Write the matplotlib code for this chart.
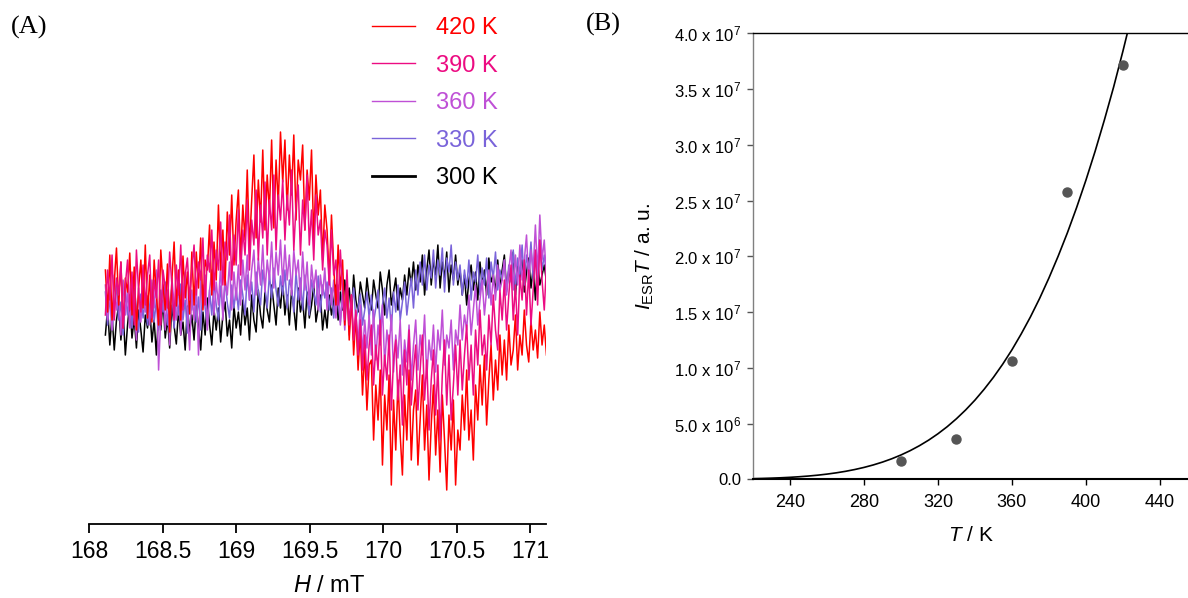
import numpy as np
import matplotlib
matplotlib.use("Agg")
import matplotlib.pyplot as plt
from matplotlib.ticker import FuncFormatter, FormatStrFormatter

plt.rcParams['font.family'] = ['Liberation Sans', 'DejaVu Sans']
plt.rcParams['mathtext.fontset'] = 'custom'
plt.rcParams['mathtext.rm'] = 'Liberation Sans'
plt.rcParams['mathtext.it'] = 'Liberation Sans:italic'

# ---------------- (A) ESR spectra ----------------
field = np.linspace(168.11, 171.11, 200)   # mT, sweep grid

esr_420 = [30, -12, 45, -20, 18, 52, -5, 38, -28, 22, 8, 47, -15, 33, -30, 12, 40, -8, 55, -18,
           25, -22, 40, 5, -25, 50, 15, -10, 36, -32, 20, 58, -6, 30, -20, 44, 2, 28, -14, 48,
           -5, 48, 12, 62, -10, 40, 30, 75, 5, 58, 20, 95, 30, 70, 15, 88, 45, 105, 35, 80,
           110, 40, 95, 60, 130, 50, 100, 145, 62, 120, 78, 150, 70, 125, 88, 160, 72, 140, 95, 168,
           118, 160, 90, 145, 105, 165, 80, 140, 120, 155, 70, 130, 100, 150, 60, 125, 85, 110, 40, 95,
           70, 20, 85, 35, -5, 55, 10, 40, -25, 20, -40, 5, -55, -15, -70, -30, -95, -50, -110, -65,
           -60, -140, -85, -120, -70, -165, -95, -130, -75, -185, -100, -150, -80, -135, -175, -95, -140, -70, -160, -110,
           -90, -165, -120, -75, -150, -105, -180, -125, -85, -155, -110, -172, -95, -140, -190, -115, -150, -100, -185, -130,
           -150, -95, -130, -70, -140, -110, -160, -85, -120, -65, -105, -55, -125, -80, -45, -100, -60, -90, -35, -75,
           -40, -80, -25, -65, -50, -15, -70, -35, -55, -10, -45, -62, -20, -50, -30, -58, -12, -45, -25, -55]
esr_390 = [-15, 30, 0, 45, -20, 22, 5, 38, -28, 15, 40, -10, 28, -25, 50, 8, -12, 35, -5, 25,
           45, -18, 20, 2, 40, -25, 30, 12, -8, 48, 15, -20, 35, 5, 55, -10, 25, 42, 0, 30,
           55, 5, 38, 20, 62, -5, 45, 28, 70, 10, 50, 30, 78, 15, 58, 40, 85, 20, 65, 35,
           90, 25, 70, 45, 100, 30, 80, 55, 110, 40, 95, 62, 118, 45, 100, 70, 125, 50, 105, 80,
           120, 60, 105, 75, 130, 50, 95, 115, 45, 100, 70, 125, 55, 90, 40, 105, 65, 80, 30, 70,
           55, 15, 70, 25, 40, -5, 50, 10, -20, 30, -25, 5, -40, -10, -55, -20, -70, -35, -80, -45,
           -25, -85, -45, -70, -20, -95, -55, -80, -35, -110, -60, -40, -100, -65, -125, -50, -85, -30, -105, -70,
           -45, -110, -70, -35, -100, -60, -130, -80, -50, -115, -65, -140, -75, -40, -105, -55, -120, -85, -45, -95,
           -40, -90, -55, -25, -80, -45, -95, -30, -65, -10, -55, -35, -70, -15, -45, 5, -30, -50, 10, -20,
           20, -30, 5, 35, -20, 15, -35, 25, 0, 40, -15, 30, -25, 10, 50, -5, 60, 20, -10, 35]
esr_360 = [15, -20, 10, -30, 25, -10, 5, -35, 20, -15, 8, -28, 22, -5, -40, 12, -22, 18, -12, 4,
           -25, 20, -8, 30, -70, -15, 15, -30, 10, -45, 22, -5, -20, 18, -35, 5, 28, -12, -50, 10,
           -20, 15, -55, 20, -8, 25, -30, 10, 30, -15, 18, -5, 35, -20, 22, 5, 38, -10, 28, 0,
           35, -5, 40, 10, 45, 0, 30, 50, 5, 42, 15, 55, 8, 40, 20, 58, 12, 48, 25, 60,
           15, 55, 20, 45, 5, 50, 25, 40, 0, 48, 10, 38, -5, 35, 12, 30, -10, 25, 5, 32,
           -10, 28, -5, 20, -18, 15, -25, 5, -30, 10, -35, -2, -40, -12, -45, -5, -55, -20, -48, -15,
           -55, -10, -60, -25, -45, -5, -65, -30, -50, -15, -72, -35, -58, -20, -75, -40, -62, -25, -80, -45,
           -20, -70, -35, -55, -15, -78, -40, -60, -25, -72, -30, -50, -10, -65, -35, -48, -20, -70, -30, -45,
           -5, -40, -15, -30, 5, -35, -10, 15, -25, 0, 20, -15, 10, 30, -5, 25, 0, 35, 10, 20,
           40, 5, 30, 50, 10, 45, 15, 55, 20, 40, 65, 15, 50, 30, 75, 25, 85, 40, 60, 20]
esr_330 = [8, -25, 5, -30, -5, 15, -20, -2, -35, 10, -15, 5, -28, 12, -8, -32, 6, -18, 2, -25,
           -5, 15, -22, 0, -30, 10, -12, 18, -25, -3, 12, -28, 5, -15, 16, -20, 0, -33, 8, -10,
           12, -22, 3, -30, 15, -8, -25, 10, -15, 18, -5, -20, 14, -12, 20, -3, -18, 15, -8, 12,
           -10, 20, 5, -15, 25, 0, 18, -12, 28, 8, -5, 30, 12, -8, 26, 2, 32, 10, -6, 24,
           5, 30, -8, 20, 12, -12, 28, 0, 22, -10, 25, 5, -15, 20, 8, -5, 24, -12, 15, 2,
           18, -10, 12, -18, 8, -2, -22, 10, -15, 5, -28, -5, 12, -20, -8, 6, -25, -10, 8, -18,
           5, -22, -8, 10, -28, -5, 12, -18, 2, -30, 8, -12, 15, -20, -2, 18, -15, 5, 22, -8,
           30, 5, 38, 15, 45, 10, 35, 22, 50, 12, 40, 25, 52, 8, 42, 28, 55, 15, 38, 20,
           35, 5, 30, 12, 40, 0, 28, 18, 45, 5, 32, 15, 42, 2, 38, 22, 48, 10, 30, 20,
           40, 8, 35, 18, 50, 12, 42, 25, 55, 15, 45, 30, 58, 20, 48, 10, 60, 30, 45, 25]
esr_300 = [-35, -8, -45, -15, -50, -20, -5, -40, -12, -55, -25, -2, -38, -18, -48, -10, -30, -52, -15, -28,
           -8, -42, -20, -55, -12, -30, 0, -38, -18, -48, -5, -26, -44, -10, -35, -22, -50, -6, -32, -15,
           -40, -5, -28, -50, -12, -35, 2, -25, -45, -10, -30, -8, -42, -15, -2, -36, -20, -48, -6, -28,
           -12, -35, 0, -25, -8, -40, 5, -20, -32, 10, -15, -28, 8, -10, -22, 15, -5, -25, 12, -8,
           18, -15, 5, -25, 10, -8, -30, 12, -12, 0, -28, 8, -18, -5, 15, -22, -8, 5, -30, -10,
           -28, 5, -15, -2, 15, -20, 8, -10, 20, -5, 12, -15, 25, 0, -12, 18, 5, -8, 22, 2,
           -10, 20, 5, -8, 28, 10, -15, 15, 30, -5, 8, 22, -10, 12, 0, 25, 5, 32, 15, 38,
           10, 35, 18, 45, 5, 30, 50, 15, 40, 25, 55, 12, 38, 22, 48, 8, 35, 20, 45, 15,
           30, 5, 25, -5, 20, 35, 10, 28, 0, 38, 15, 30, 5, 42, 18, 25, 8, 40, 12, 30,
           45, 10, 30, 20, 48, 5, 35, 22, 40, 8, 28, 42, 12, 32, 0, 38, 15, 25, 35, 18]

spec_labels = ['420 K', '390 K', '360 K', '330 K', '300 K']
spec_colors = ['#ff0000', '#ec0c82', '#bf50d6', '#7a64da', '#000000']

# ---------------- (B) I_ESR*T vs T ----------------
temp_pts = [300, 330, 360, 390, 420]
iesr_pts = [1.6e6, 3.6e6, 1.06e7, 2.58e7, 3.72e7]

fit_T = [220, 225, 230, 235, 240, 245, 250, 255, 260, 265, 270, 275, 280, 285, 290, 295,
         300, 305, 310, 315, 320, 325, 330, 335, 340, 345, 350, 355, 360, 365, 370, 375,
         380, 385, 390, 395, 400, 405, 410, 415, 420, 425]
fit_I = [0.057e6, 0.077e6, 0.103e6, 0.136e6, 0.177e6, 0.229e6, 0.293e6, 0.370e6, 0.465e6,
         0.579e6, 0.714e6, 0.875e6, 1.064e6, 1.285e6, 1.542e6, 1.839e6, 2.179e6, 2.570e6,
         3.013e6, 3.515e6, 4.082e6, 4.716e6, 5.430e6, 6.222e6, 7.099e6, 8.077e6, 9.143e6,
         10.32e6, 11.61e6, 13.03e6, 14.56e6, 16.23e6, 18.05e6, 20.01e6, 22.11e6, 24.38e6,
         26.82e6, 29.43e6, 32.23e6, 35.19e6, 38.39e6, 41.76e6]

fig = plt.figure(figsize=(11.88, 5.98), dpi=100)

# ---- panel A ----
axA = fig.add_axes([0.0751, 0.1237, 0.3849, 0.8763])
series = [esr_420, esr_390, esr_360, esr_330, esr_300]
lines = {}
for k in [4, 3, 2, 0, 1]:   # drawing order
    ln, = axA.plot(field, series[k], color=spec_colors[k], lw=1.1, label=spec_labels[k])
    lines[k] = ln
axA.set_xlim(168, 171.11)
axA.set_ylim(-224, 300)
for s in ['left', 'right', 'top']:
    axA.spines[s].set_visible(False)
axA.spines['bottom'].set_linewidth(1.3)
axA.set_yticks([])
axA.set_xticks([168, 168.5, 169, 169.5, 170, 170.5, 171])
axA.xaxis.set_major_formatter(FormatStrFormatter('%g'))
axA.tick_params(axis='x', direction='out', length=6.5, width=1.3, labelsize=16.5, pad=5)
axA.set_xlabel(r'$H$ / mT', fontsize=17)
axA.xaxis.set_label_coords(0.525, -0.098)

leg = axA.legend(handles=[lines[k] for k in range(5)], loc='upper left',
                 bbox_to_anchor=(372 / 1188, 1 - 17 / 598), bbox_transform=fig.transFigure,
                 frameon=False, fontsize=17, handlelength=1.82, handletextpad=0.89,
                 labelspacing=0.66, borderpad=0, borderaxespad=0, labelcolor='linecolor')
for hl in leg.get_lines()[:4]:
    hl.set_linewidth(1.0)
leg.get_lines()[4].set_linewidth(2.0)

fig.text(11 / 1188, 1 - 27 / 598, '(A)', fontsize=19, family='Liberation Serif', va='center')

# ---- panel B ----
axB = fig.add_axes([0.6338, 0.1985, 0.3662, 0.7458])
axB.plot(fit_T, fit_I, color='black', lw=1.2)
axB.plot(temp_pts, iesr_pts, 'o', color='#555555', ms=6.5)
axB.set_xlim(220, 455.2)
axB.set_ylim(0, 4.0e7)
axB.spines['right'].set_visible(False)
axB.spines['top'].set_linewidth(1.0)
axB.spines['left'].set_linewidth(1.0)
axB.spines['left'].set_color('#808080')
axB.spines['bottom'].set_linewidth(1.5)
axB.set_xticks([240, 280, 320, 360, 400, 440])
axB.set_yticks(np.arange(0, 4.01e7, 5e6))


def sci_label(v, pos):
    if v == 0:
        return '0.0'
    e = int(np.floor(np.log10(v) + 1e-9))
    m = v / 10 ** e
    return f'{m:.1f} x 10$^{{{e}}}$'


axB.yaxis.set_major_formatter(FuncFormatter(sci_label))
axB.tick_params(axis='x', direction='out', length=4.5, width=1.0, labelsize=13, pad=6)
axB.tick_params(axis='y', direction='out', length=4.5, width=1.0, labelsize=12, pad=4,
                color='#555555')
axB.set_xlabel(r'$T$ / K', fontsize=15, labelpad=11)
axB.set_ylabel(r'$I_{\mathrm{ESR}}T$ / a. u.', fontsize=15, labelpad=13)

fig.text(586 / 1188, 1 - 24 / 598, '(B)', fontsize=19, family='Liberation Serif', va='center')

fig.savefig('out.png', dpi=100)
